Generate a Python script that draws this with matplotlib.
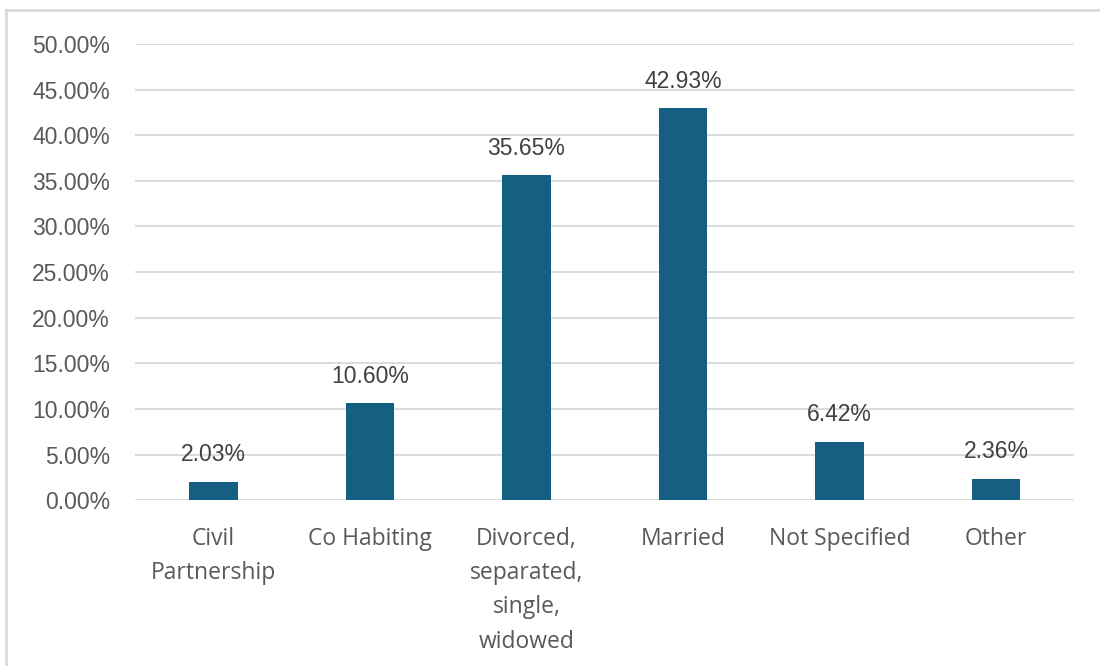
import matplotlib.pyplot as plt
from matplotlib.lines import Line2D
from matplotlib.ticker import FuncFormatter

categories = ["Civil\nPartnership", "Co Habiting", "Divorced,\nseparated,\nsingle,\nwidowed",
              "Married", "Not Specified", "Other"]
values = [2.03, 10.60, 35.65, 42.93, 6.42, 2.36]
yticks = [0, 5, 10, 15, 20, 25, 30, 35, 40, 45, 50]

BAR = "#156082"
TEXT = "#595959"
GRID = "#D9D9D9"


def main():
    fig = plt.figure(figsize=(11, 6.66), dpi=100)
    ax = fig.add_axes([0.1227, 0.249, 0.854, 0.685])

    x = range(len(categories))
    bars = ax.bar(x, values, width=0.31, color=BAR, zorder=3)
    for b, v in zip(bars, values):
        ax.annotate(f"{v:.2f}%", (b.get_x() + b.get_width() / 2, v),
                    xytext=(0, 11), textcoords="offset points",
                    ha="center", va="bottom", fontsize=16.5, color="#404040",
                    family="Liberation Sans")

    ax.set_xlim(-0.5, len(categories) - 0.5)
    ax.set_ylim(0, 50)
    ax.set_yticks(yticks)
    ax.yaxis.set_major_formatter(FuncFormatter(lambda v, p: f"{v:.2f}%"))
    ax.grid(axis="y", color=GRID, linewidth=1.3, zorder=0)
    ax.set_xticks(list(x))
    ax.set_xticklabels(categories, fontsize=16.5, color=TEXT, family="Open Sans",
                       linespacing=1.58)
    for lab in ax.get_yticklabels():
        lab.set_family("Liberation Sans")
        lab.set_fontsize(16.5)
        lab.set_color(TEXT)
    ax.tick_params(axis="x", length=0, pad=19)
    ax.tick_params(axis="y", length=0, pad=18)
    for s in ax.spines.values():
        s.set_visible(False)
    ax.axhline(0, color=GRID, linewidth=1.3, zorder=2)

    # chart border (left and top visible)
    fig.add_artist(Line2D([0.005, 0.005], [0, 0.985], color="#D9D9D9", lw=2,
                          transform=fig.transFigure))
    fig.add_artist(Line2D([0.005, 1], [0.985, 0.985], color="#D9D9D9", lw=2,
                          transform=fig.transFigure))

    plt.savefig("out.png")


if __name__ == "__main__":
    main()
